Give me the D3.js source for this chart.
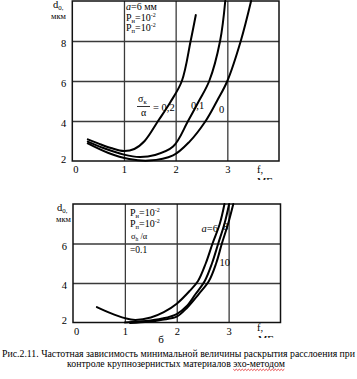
<!DOCTYPE html>
<html><head><meta charset="utf-8">
<script src="https://cdn.jsdelivr.net/npm/d3@7"></script>
<style>
html,body{margin:0;padding:0;background:#fff;}
svg{display:block;}
svg text{font-family:'Liberation Serif','Times New Roman','DejaVu Serif',serif;fill:#000;}
</style></head>
<body>
<script>
// ---------- data ----------
const topXTicks = [0, 1, 2, 3];
const topYTicks = [2, 4, 6, 8];
const topGridX = [1, 2, 3];
const topGridY = [4, 6, 8];
const topCurveNames = ["0.2", "0.1", "0"];
const topCurve02 = [[0.3,3.08],[0.5,2.88],[0.75,2.65],[1.0,2.5],[1.2,2.6],[1.4,3.0],[1.66,4.0],[1.9,4.95],[2.12,6.0],[2.29,8.0],[2.39,9.3]];
const topCurve01 = [[0.3,2.97],[0.6,2.65],[1.0,2.32],[1.3,2.2],[1.6,2.3],[1.95,2.72],[2.24,4.0],[2.45,5.0],[2.65,6.0],[2.86,8.0],[2.96,10]];
const topCurve00 = [[0.3,2.88],[0.7,2.4],[1.1,2.1],[1.48,2.02],[1.95,2.28],[2.27,2.97],[2.58,4.0],[2.8,5.0],[3.0,6.0],[3.26,8.0],[3.46,10]];

const botXTicks = [0, 1, 2, 3];
const botYTicks = [2, 4, 6];
const botGridX = [1, 2, 3];
const botGridY = [4, 6];
const botCurveNames = ["a=6", "8", "10"];
const botCurve6  = [[0.46,2.78],[0.7,2.5],[1.0,2.22],[1.2,2.13],[1.5,2.25],[1.75,2.52],[2.0,2.95],[2.25,3.6],[2.41,4.1],[2.56,5.0],[2.69,6.0],[2.83,7.0],[2.92,8.0]];
const botCurve8  = [[1.0,2.0],[1.4,2.07],[1.72,2.2],[2.0,2.43],[2.2,2.85],[2.36,3.43],[2.54,4.1],[2.68,5.0],[2.80,6.0],[2.92,7.0],[3.01,8.0]];
const botCurve10 = [[1.1,1.98],[1.45,2.04],[1.72,2.14],[2.0,2.3],[2.2,2.75],[2.42,3.43],[2.62,4.1],[2.76,5.0],[2.87,6.0],[2.99,7.0],[3.09,8.0]];

const caption1 = "Рис.2.11. Частотная зависимость минимальной величины раскрытия расслоения при";
const caption2a = "контроле крупнозернистых материалов ";
const caption2b = "эхо-методом";

// ---------- drawing ----------
const W = 357, H = 379;
const FONT = "'Liberation Serif','Times New Roman','DejaVu Serif',serif";
const svg = d3.select("body").append("svg").attr("width", W).attr("height", H)
  .attr("font-family", FONT);

const defs = svg.append("defs");
defs.append("clipPath").attr("id","clipTop").append("rect").attr("x",0).attr("y",0).attr("width",W).attr("height",180);
defs.append("clipPath").attr("id","clipBot").append("rect").attr("x",0).attr("y",180).attr("width",W).attr("height",158);

function panel(opt) {
  const g = svg.append("g");
  const x = d3.scaleLinear().domain(opt.xDomain).range(opt.xRange);
  const y = d3.scaleLinear().domain(opt.yDomain).range(opt.yRange);
  const [x0, x1] = opt.xRange, [y0, y1] = opt.yRange;

  // grid
  g.append("g").attr("transform", `translate(0,${y0})`)
    .call(d3.axisBottom(x).tickValues(opt.gridX).tickSize(-(y0 - y1)).tickFormat(""))
    .call(s => s.select(".domain").remove())
    .call(s => s.selectAll("line").attr("stroke", "#3a3a3a").attr("stroke-width", 1.3));
  g.append("g").attr("transform", `translate(${x0},0)`)
    .call(d3.axisLeft(y).tickValues(opt.gridY).tickSize(-(x1 - x0)).tickFormat(""))
    .call(s => s.select(".domain").remove())
    .call(s => s.selectAll("line").attr("stroke", "#3a3a3a").attr("stroke-width", 1.3));

  // frame
  g.append("rect").attr("x", x0).attr("y", y1).attr("width", x1 - x0).attr("height", y0 - y1)
    .attr("fill", "none").attr("stroke", "#111").attr("stroke-width", 1.5);

  // tick labels
  const xa = g.append("g").attr("transform", `translate(0,${y0})`)
    .call(d3.axisBottom(x).tickValues(opt.xTicks).tickSize(0).tickPadding(5).tickFormat(d3.format("d")));
  xa.attr("font-family", FONT);
  xa.select(".domain").remove();
  xa.selectAll("text").attr("font-size", 10.5)
    .attr("dx", d => d === 0 ? 3 : 0);
  const ya = g.append("g").attr("transform", `translate(${x0},0)`)
    .call(d3.axisLeft(y).tickValues(opt.yTicks).tickSize(0).tickPadding(6).tickFormat(d3.format("d")));
  ya.attr("font-family", FONT);
  ya.select(".domain").remove();
  ya.selectAll("text").attr("font-size", 10.5)
    .attr("dy", d => d === opt.yDomain[0] ? "0.1em" : "0.55em");

  // curves
  const line = d3.line().x(d => x(d[0])).y(d => y(d[1])).curve(d3.curveCatmullRom.alpha(0.5));
  const cg = g.append("g");
  cg.selectAll("path").data(opt.curves).join("path")
    .attr("d", line).attr("fill", "none").attr("stroke", "#000").attr("stroke-width", 2)
    .attr("stroke-linecap", "round");

  return {g, x, y};
}

const T = panel({
  xDomain: [0, 4], xRange: [72.3, 279],
  yDomain: [2, 10], yRange: [161, 1],
  xTicks: topXTicks, yTicks: topYTicks, gridX: topGridX, gridY: topGridY,
  curves: [topCurve02, topCurve01, topCurve00]
});
const B = panel({
  xDomain: [0, 4], xRange: [73, 280.5],
  yDomain: [2, 8], yRange: [322.5, 204],
  xTicks: botXTicks, yTicks: botYTicks, gridX: botGridX, gridY: botGridY,
  curves: [botCurve6, botCurve8, botCurve10]
});

function txt(x, y, s, size) {
  const t = svg.append("text").attr("x", x).attr("y", y).attr("font-size", size || 10);
  if (s !== null) t.text(s);
  return t;
}
function withSub(x, y, main, sub, rest, size, sup) {
  const t = svg.append("text").attr("x", x).attr("y", y).attr("font-size", size);
  t.append("tspan").text(main);
  t.append("tspan").attr("font-size", size * 0.65).attr("dy", 2).text(sub);
  t.append("tspan").attr("dy", -2).text(rest);
  if (sup) t.append("tspan").attr("font-size", size * 0.6).attr("dy", -4).text(sup);
  return t;
}

// ---- top panel texts ----
withSub(53, 8, "d", "0,", "", 10.5);
txt(66, 19, "мкм", 8.5).attr("text-anchor", "end");
const a1 = svg.append("text").attr("x", 126).attr("y", 10).attr("font-size", 10);
a1.append("tspan").attr("font-style", "italic").text("a");
a1.append("tspan").text("=6 мм");
withSub(126, 20.5, "P", "н", "=10", 10, "-2");
withSub(126, 31, "P", "п", "=10", 10, "-2");

// fraction label for curve 0.2
withSub(138, 102, "σ", "к", "", 10);
svg.append("line").attr("x1", 137).attr("x2", 150).attr("y1", 106.5).attr("y2", 106.5)
  .attr("stroke", "#000").attr("stroke-width", 0.8);
txt(141, 116, "α", 10);
txt(153, 111, "= 0,2", 10.5);
txt(191, 109, "0,1", 10.5);
txt(219, 113, "0", 10.5);

txt(257, 173, "f,", 10.5);
txt(257, 184.5, "МГц", 10.5).attr("clip-path", "url(#clipTop)");

// ---- bottom panel texts ----
withSub(57, 211, "d", "0,", "", 10.5);
txt(71, 222, "мкм", 8.5).attr("text-anchor", "end");
withSub(130, 216, "P", "н", "=10", 10, "-2");
withSub(130, 226.5, "P", "п", "=10", 10, "-2");
withSub(131, 239, "σ", "h", " /α", 8.5);
txt(130, 252.5, "=0.1", 9.5);

const lab6 = svg.append("text").attr("x", 201.5).attr("y", 232).attr("font-size", 10.5);
lab6.append("tspan").attr("font-style", "italic").text("a");
lab6.append("tspan").text("=6");
txt(223, 230, "8", 10.5);
txt(219.5, 266, "10", 10.5);

txt(257, 331, "f,", 10.5);
txt(258, 342.5, "МГц", 10.5).attr("clip-path", "url(#clipBot)");
txt(161, 343, "б", 11).attr("text-anchor", "middle");

// ---- caption ----
txt(2, 356.5, caption1, 9.8).attr("textLength", 353).attr("lengthAdjust", "spacingAndGlyphs");
const c2 = svg.append("text").attr("x", 67).attr("y", 367).attr("font-size", 9.8)
  .attr("textLength", 218).attr("lengthAdjust", "spacingAndGlyphs");
c2.append("tspan").text(caption2a);
c2.append("tspan").text(caption2b);
// wavy spell-check underline under the last word
(function () {
  const node = c2.node();
  const n = caption2a.length;
  const start = node.getStartPositionOfChar(n).x;
  const end = node.getEndPositionOfChar(n + caption2b.length - 1).x;
  const yy = 369.5;
  const pts = d3.range(start, end, 1.5).map((xx, i) => [xx, yy + (i % 2 ? 1 : -0.3)]);
  svg.append("path").attr("d", d3.line()(pts)).attr("fill", "none")
    .attr("stroke", "#e02020").attr("stroke-width", 0.8);
})();
</script>
</body></html>
